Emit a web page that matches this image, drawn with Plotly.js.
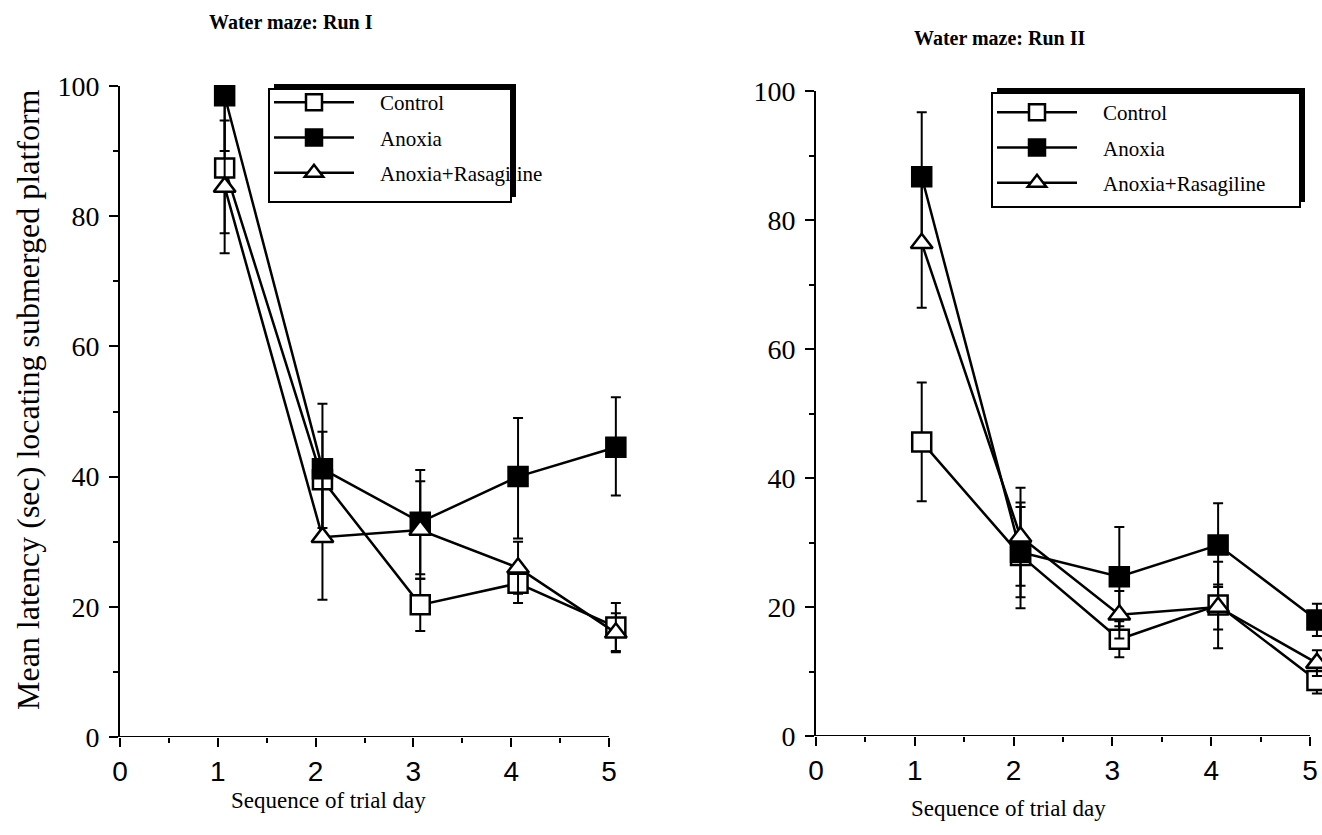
<!DOCTYPE html>
<html>
<head>
<meta charset="utf-8">
<script src="https://cdn.plot.ly/plotly-3.0.1.min.js"></script>
<style>html,body{margin:0;padding:0;background:#fff;}#chart{width:1322px;height:835px;}</style>
</head>
<body>
<div id="chart"></div>
<script>
// ---- data ----
const days = [1, 2, 3, 4, 5];
const seriesNames = ["Control", "Anoxia", "Anoxia+Rasagiline"];

// Run I
const run1Control = [87.4, 39.5, 20.3, 23.6, 16.9];
const run1ControlErr = [10, 7.4, 4, 3, 3.7];
const run1Anoxia = [98.5, 41.2, 33.0, 40.0, 44.5];
const run1AnoxiaErrPlus = [1.5, 10, 8, 9, 7.7];
const run1AnoxiaErrMinus = [8.5, 10, 8, 9.5, 7.4];
const run1Rasag = [84.5, 30.7, 31.8, 26.0, 16.0];
const run1RasagErr = [10.2, 9.6, 7.5, 4, 3];

// Run II
const run2Control = [45.6, 28.0, 15.0, 20.3, 8.6];
const run2ControlErr = [9.2, 8.2, 2.8, 6.7, 2];
const run2Anoxia = [86.7, 28.5, 24.7, 29.6, 18.0];
const run2AnoxiaErr = [10, 7, 7.7, 6.5, 2.5];
const run2Rasag = [76.4, 30.9, 18.8, 20.0, 11.3];
const run2RasagErr = [10, 7.6, 3.7, 3.5, 2];

const xTickVals = [0, 1, 2, 3, 4, 5];
const yTickVals = [0, 20, 40, 60, 80, 100];

// ---- styling / layout ----
const W = 1322, H = 835;
const px = v => v / W;          // pixel -> paper x
const py = v => 1 - v / H;      // pixel -> paper y
const dayShift = 0.07;          // points sit slightly right of the tick marks
const xs = days.map(d => d + dayShift);
const legendPad = "\u00a0\u00a0\u00a0\u00a0";

const serif = "Liberation Serif, Times New Roman, serif";
const sans = "Liberation Sans, Arial, sans-serif";

function errBar(plus, minus) {
  return {type: "data", symmetric: minus === undefined, array: plus,
          arrayminus: minus, thickness: 2, width: 5, color: "#000"};
}
function trace(name, y, err, xa, ya, leg, grp, sym, fill) {
  return {
    type: "scatter", mode: "lines+markers", name: legendPad + name,
    x: xs, y: y, xaxis: xa, yaxis: ya, legend: leg, legendgroup: grp,
    line: {color: "#000", width: 2.5},
    marker: {symbol: sym, size: 19, color: fill, line: {color: "#000", width: 2.5}},
    error_y: err, cliponaxis: false
  };
}

const data = [
  trace(seriesNames[0], run1Control, errBar(run1ControlErr), "x", "y", "legend", "a1", "square", "#fff"),
  trace(seriesNames[1], run1Anoxia, errBar(run1AnoxiaErrPlus, run1AnoxiaErrMinus), "x", "y", "legend", "b1", "square", "#000"),
  trace(seriesNames[2], run1Rasag, errBar(run1RasagErr), "x", "y", "legend", "c1", "triangle-up", "#fff"),
  trace(seriesNames[0], run2Control, errBar(run2ControlErr), "x2", "y2", "legend2", "a2", "square", "#fff"),
  trace(seriesNames[1], run2Anoxia, errBar(run2AnoxiaErr), "x2", "y2", "legend2", "b2", "square", "#000"),
  trace(seriesNames[2], run2Rasag, errBar(run2RasagErr), "x2", "y2", "legend2", "c2", "triangle-up", "#fff")
];

function xAxis(domain, anchor, upper) {
  return {
    domain: domain, anchor: anchor, range: [0, upper], fixedrange: true,
    tickvals: xTickVals, ticktext: xTickVals.map(String),
    showline: false,
    ticks: "outside", ticklen: 9, tickwidth: 2, tickcolor: "#000",
    minor: {tickvals: [0.5, 1.5, 2.5, 3.5, 4.5], ticks: "outside", ticklen: 5, tickwidth: 2, tickcolor: "#000"},
    showgrid: false, zeroline: false,
    tickfont: {family: sans, size: 28, color: "#000"}
  };
}
function yAxis(domain, anchor) {
  return {
    domain: domain, anchor: anchor, range: [0, 100], fixedrange: true,
    tickvals: yTickVals, ticktext: yTickVals.map(String),
    showline: true, linewidth: 2, linecolor: "#000",
    ticks: "outside", ticklen: 9, tickwidth: 2, tickcolor: "#000",
    minor: {dtick: 10, ticks: "outside", ticklen: 5, tickwidth: 2, tickcolor: "#000"},
    showgrid: false, zeroline: false, ticklabelstandoff: 4,
    tickfont: {family: serif, size: 28, color: "#000"}
  };
}

function legendBox(x0, y0, x1, y1) {
  return [
    {type: "rect", xref: "paper", yref: "paper", layer: "above",
     x0: px(x0 + 5), x1: px(x1 + 5), y0: py(y0 - 5), y1: py(y1 - 5),
     fillcolor: "#000", line: {width: 0}},
    {type: "rect", xref: "paper", yref: "paper", layer: "above",
     x0: px(x0), x1: px(x1), y0: py(y0), y1: py(y1),
     fillcolor: "#fff", line: {color: "#000", width: 2}}
  ];
}
function xBaseline(xref, yref) {
  return {type: "line", xref: xref, yref: yref, x0: 0, x1: 5, y0: 0, y1: 0,
          line: {color: "#000", width: 2}, layer: "above"};
}

function legendCfg(x, y) {
  return {
    x: px(x), y: py(y), xanchor: "left", yanchor: "top",
    bgcolor: "rgba(0,0,0,0)", borderwidth: 0,
    font: {family: serif, size: 21, color: "#000"},
    itemwidth: 80, tracegroupgap: 5, traceorder: "grouped"
  };
}

function txt(text, x, y, size, angle) {
  return {text: text, xref: "paper", yref: "paper", x: px(x), y: py(y),
          xanchor: "center", yanchor: "middle", showarrow: false, textangle: angle || 0,
          font: {family: serif, size: size, color: "#000"}};
}

const layout = {
  width: W, height: H,
  margin: {l: 0, r: 0, t: 0, b: 0},
  paper_bgcolor: "#fff", plot_bgcolor: "#fff",
  showlegend: true,
  xaxis: xAxis([px(120), px(120 + 5.2 * 97.8)], "y", 5.2),
  yaxis: yAxis([py(737), py(86)], "x"),
  xaxis2: xAxis([px(816), 1], "y2", (1322 - 816) / 98.8),
  yaxis2: yAxis([py(736), py(91)], "x2"),
  legend: legendCfg(269, 82),
  legend2: legendCfg(992, 92),
  shapes: legendBox(269, 89, 511, 202).concat(legendBox(992, 93, 1300, 207),
          [xBaseline("x", "y"), xBaseline("x2", "y2")]),
  annotations: [
    txt("<b>Water maze: Run I</b>", 291, 22, 20),
    txt("<b>Water maze: Run II</b>", 1000, 38, 20),
    txt("Mean latency (sec) locating submerged platform", 28, 400, 32, -90),
    txt("Sequence of trial day", 328, 800, 23),
    txt("Sequence of trial day", 1008, 808, 23)
  ]
};

Plotly.newPlot("chart", data, layout, {displayModeBar: false, staticPlot: true});
</script>
</body>
</html>
